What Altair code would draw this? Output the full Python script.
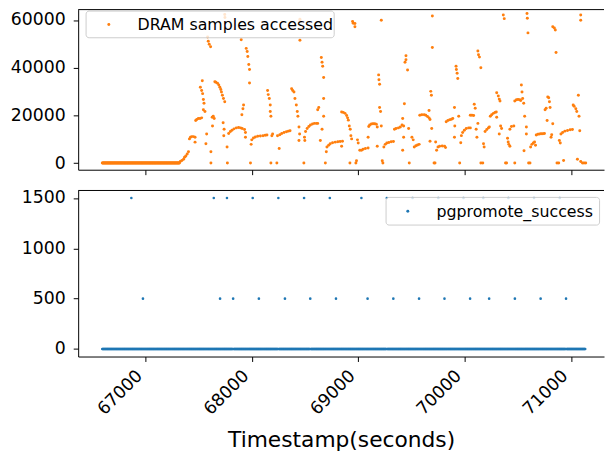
import altair as alt
import numpy as np
import pandas as pd

FONT = "DejaVu Sans"
ORANGE = "#ff7f0e"
BLUE = "#1f77b4"

# ---------------- data ----------------
x_ticks = [67000, 68000, 69000, 70000, 71000]
top_y_ticks = [0, 20000, 40000, 60000]
bot_y_ticks = [0, 500, 1000, 1500]
top_label = ["DRAM samples accessed"]
bot_label = ["pgpromote_success"]

# sampling grid of the monitor (regular sampling every 5 s)
sample_start, sample_end, sample_step = 66593, 71136, 5
# DRAM samples were 0 until this timestamp
dram_idle_end = 67320

# DRAM samples accessed (timestamp, value)
dram_seg_a = [(67326,660),(67341,1070),(67357,1620),(67366,2420),(67378,2970),(67391,3780),(67403,4730),
    (67412,10150),(67422,10830),(67434,11100),(67450,11100),(67465,10830),(67465,8790),
    (67471,17870),(67481,18280),(67496,18680),(67512,18680),(67527,18960),
    (67533,34540),(67515,31830),(67527,30470),(67536,29120),(67543,26680),(67549,25050),(67543,22340),(67558,21670),
    (67574,12180),(67567,8120),(67614,4730),(67614,0),
    (67583,52830),(67589,51070),(67598,49850),(67611,48770),
    (67626,19230),(67636,19630),(67629,15570),(67645,18680),
    (67651,34130),(67660,33860),(67676,33450),(67688,32780),(67698,31830),(67707,30880),(67713,29800),
    (67722,28440),(67732,27090),(67744,25730),
    (67729,16920),(67738,14210),(67735,11500),(67744,62300),(67746,61000),
    (67766,6760),(67769,0)]
dram_seg_b = [(67781,12450),(67797,13260),(67812,13810),(67831,14350),(67853,14760),(67874,14890),(67893,14760),
    (67908,14490),(67930,14080),(67939,12860),
    (67905,20310),(67915,22750),(67921,24380),
    (67946,48090),(67955,46740),(67961,44700),(67970,41310),(67977,39280),(67977,33590),
    (67899,51750),(67939,10830),(67986,0),(67992,7850),
    (67998,9740),(68014,10560),(68032,10960),(68054,11230),(68079,11370),(68104,11500),(68125,11640),(68141,11780)]
dram_seg_c = [(68147,30470),(68153,28710),(68163,27090),(68172,24380),(68172,21670),(68178,19630),
    (68178,0),(68194,12180),(68187,11500),(68234,0),(68256,6080),
    (68240,11500),(68262,11910),(68280,12450),(68302,12860),(68324,13130),(68342,13400),(68358,13540),
    (68373,31150),(68383,30470),(68395,29800),(68404,27090),(68417,24380),(68426,21670),(68432,19630),
    (68442,15160),(68448,12180),(68442,9470),
    (68488,0),(68494,10830),(68497,9470),
    (68504,13260),(68519,14490),(68535,15300),(68550,15980),(68569,16380),(68587,16650),(68606,16650),(68618,16650),
    (68451,60280),(68451,59340),(68451,51480),
    (68628,23290),(68618,22340),
    (68652,44300),(68659,42260),(68665,40640),(68674,35900),
    (68674,27090),(68674,19630),(68659,14210),(68643,9470),
    (68690,0),(68699,4730),(68705,6760)]
dram_seg_d = [(68721,7440),(68736,8120),(68758,8530),(68783,8790),(68807,8930),(68829,9070),(68851,9200),(68843,7030),
    (68843,21400),(68859,21260),(68875,20850),(68890,19910),(68899,18960),(68906,18010),(68915,15570),
    (68924,14220),(68930,11510),(68937,10150),
    (68921,0),(68977,0),(68983,940),
    (68946,59340),(68952,58660),(68968,57170),(68968,58520),
    (68992,9740),(68999,8390),(69014,5410),(69030,5410),(69045,5820),(69067,6090),(69092,6360),
    (69092,10830),
    (69098,15300),(69107,15980),(69123,16380),(69138,16520),(69154,16520),(69169,16250),(69178,15160),
    (69178,7030),
    (69191,36980),(69194,34950),(69200,33050),
    (69216,59880),
    (69200,23290),(69209,21670),(69216,15570),
    (69225,940),(69231,0)]
dram_seg_e = [(69240,6760),(69253,7850),(69268,8390),(69287,8660),(69309,8930),(69330,9070),
    (69340,14220),(69355,14490),(69377,14760),(69395,15160),(69411,15980),(69426,15570),
    (69417,18690),(69433,24920),(69426,10830),(69417,5410),
    (69448,44970),(69448,43350),(69439,42260),(69463,39010),
    (69473,14490),(69479,0),
    (69504,10830),(69516,9740),(69526,6760),(69541,7300),(69557,7580),(69572,7850),
    (69578,20040),(69597,20310),(69619,20310),(69634,20040),(69650,19500),(69665,18960),(69674,18280),
    (69665,22070),(69681,30070),(69687,28440),
    (69696,61640),(69696,48500),
    (69690,14490),(69674,9200),
    (69712,0),(69721,0)]
dram_seg_f = [(69727,8800),(69736,5410),(69749,6760),(69764,7030),(69789,7170),(69811,7030),(69820,6490),
    (69826,17330),(69842,17870),(69860,18140),(69876,18420),(69888,18690),
    (69904,23290),(69907,15570),(69944,19630),(69904,10830),
    (69919,40640),(69922,39280),(69929,37660),(69935,35490),
    (69953,0),(69963,8520),
    (69969,11510),(69981,12860),(69997,13810),(70015,14490),(70037,14760),(70053,14760),
    (70053,20040),(70068,20040),(70084,19910),
    (70090,24650),(70099,23020),
    (70108,14220),(70115,10830),(70124,16650),
    (70124,47010),(70130,45380),(70139,44430),(70152,39960),
    (70152,0),(70170,0),(70177,8120),(70183,6760),
    (70192,13270),(70208,14080),(70223,14760),(70232,15160)]
dram_seg_g = [(70241,19630),(70254,20310),(70270,20850),(70285,21260),(70297,21400),(70301,19230),
    (70301,29530),(70316,28170),(70325,26820),(70332,26000),
    (70338,15570),(70325,12180),
    (70363,62050),(70372,60560),
    (70347,14490),
    (70384,0),(70394,0),
    (70403,10420),(70409,8800),(70415,7850),(70425,7030),
    (70425,14220),(70440,15300),(70462,15570),
    (70471,0),
    (70471,26000),(70487,26550),(70502,26680),(70518,26550),(70527,26270),
    (70533,32780),(70539,29800),(70545,27090),(70555,25060),(70564,19630),
    (70580,15160),(70580,12180),
    (70586,62720),(70589,60690),(70595,54590),
    (70558,5140),
    (70601,0),(70614,0),
    (70620,6760),(70632,7850),(70645,8390),(70657,8800),(70666,7440),
    (70673,11780),(70688,12050),(70704,12180),(70719,12320),(70735,12320),(70750,12450)]
dram_seg_h = [(70756,22340),(70766,23020),
    (70775,17870),(70781,27760),(70790,27360),(70797,25730),(70803,23290),
    (70812,10830),(70818,11910),(70828,16520),
    (70828,57170),(70843,56630),(70852,55810),(70859,46330),
    (70868,0),(70884,0),(70890,9470),(70899,8390),
    (70905,12180),(70921,12860),(70942,13400),(70967,13670),(70992,13940),(71013,14080),
    (70930,1070),
    (71020,24380),(71029,23840),(71045,22750),(71054,21670),
    (71069,28440),(71075,19630),(71082,13540),
    (71060,1610),(71091,660),(71107,0),(71122,0),(71138,0),
    (71091,62050),(71091,59880)]

# pgpromote_success: zero everywhere except these timestamps
promote_1500_t = [66866, 67641, 67765, 68007, 68248, 68490, 68732, 69029, 69268, 69510,
                  69752, 69989, 70175, 70411, 70652, 70894]
promote_500_t = [66975, 67700, 67823, 68065, 68310, 68548, 68790, 69087, 69329, 69571,
                 69810, 70051, 70230, 70472, 70714, 70953]

# ---------------- tables ----------------
grid = np.arange(sample_start, sample_end + 1, sample_step)
idle = grid[grid <= dram_idle_end]
dram_rows = [(int(t), 0) for t in idle]
for seg in (dram_seg_a, dram_seg_b, dram_seg_c, dram_seg_d, dram_seg_e, dram_seg_f, dram_seg_g, dram_seg_h):
    dram_rows.extend(seg)
dram_df = pd.DataFrame(dram_rows, columns=["t", "v"])

spikes = set(promote_1500_t) | set(promote_500_t)
prom_rows = [(int(t), 0) for t in grid if int(t) not in spikes]
prom_rows += [(t, 1500) for t in promote_1500_t]
prom_rows += [(t, 500) for t in promote_500_t]
prom_df = pd.DataFrame(prom_rows, columns=["t", "v"])

top_leg_df = pd.DataFrame({"label": top_label})
bot_leg_df = pd.DataFrame({"label": bot_label})
dummy = pd.DataFrame({"a": [0]})

# ---------------- layout ----------------
W = 532
H_TOP = 162
H_BOT = 168
X_DOMAIN = [66366, 71310]
Y_EXTENT = 71

xscale = alt.Scale(domain=X_DOMAIN, nice=False, zero=False)


def legend_layers(df, color, x0, x1, y0, y1, sym_x, txt_x):
    ymid = (y0 + y1) / 2
    box = alt.Chart(df).mark_rect(fill="white", fillOpacity=0.8, stroke="#cccccc",
                                  strokeWidth=1, cornerRadius=3).encode(
        x=alt.value(x0), x2=alt.value(x1), y=alt.value(y0), y2=alt.value(y1))
    sym = alt.Chart(df).mark_circle(size=9, opacity=1, color=color).encode(
        x=alt.value(sym_x), y=alt.value(ymid))
    txt = alt.Chart(df).mark_text(align="left", baseline="middle", font=FONT,
                                  fontSize=16, color="black").encode(
        x=alt.value(txt_x), y=alt.value(ymid + 0.5), text="label:N")
    return [box, sym, txt]


top_pts = alt.Chart(dram_df).mark_circle(size=9, opacity=1, color=ORANGE).encode(
    x=alt.X("t:Q", scale=xscale,
            axis=alt.Axis(values=x_ticks, labels=False, title=None, grid=False,
                          tickSize=5, minExtent=5, maxExtent=5)),
    y=alt.Y("v:Q", scale=alt.Scale(domain=[-2776, 64351], nice=False, zero=False),
            axis=alt.Axis(values=top_y_ticks, format="d", title=None, grid=False,
                          tickSize=5, labelPadding=8, minExtent=Y_EXTENT, maxExtent=Y_EXTENT)),
)
top_frame = alt.Chart(dummy).mark_rule(color="black", strokeWidth=1).encode(
    x=alt.value(0), x2=alt.value(W), y=alt.value(0))
top = alt.layer(top_pts, *legend_layers(top_leg_df, ORANGE, 8, 259, 1.5, 28.5, 31, 60),
                top_frame).properties(width=W, height=H_TOP)

bot_pts = alt.Chart(prom_df).mark_circle(size=7, opacity=1, color=BLUE).encode(
    x=alt.X("t:Q", scale=xscale,
            axis=alt.Axis(values=x_ticks, format="d", title="Timestamp(seconds)", grid=False,
                          tickSize=5, labelAngle=315, labelAlign="right", labelBaseline="bottom",
                          labelPadding=18, titlePadding=12, titleFontSize=22, titleFont=FONT,
                          titleFontWeight="normal", titleColor="black")),
    y=alt.Y("v:Q", scale=alt.Scale(domain=[-75, 1575], nice=False, zero=False),
            axis=alt.Axis(values=bot_y_ticks, format="d", title=None, grid=False,
                          tickSize=5, labelPadding=8, minExtent=Y_EXTENT, maxExtent=Y_EXTENT)),
)
bot_frame = alt.Chart(dummy).mark_rule(color="black", strokeWidth=1).encode(
    x=alt.value(0), x2=alt.value(W), y=alt.value(0))
bottom = alt.layer(bot_pts, *legend_layers(bot_leg_df, BLUE, 311.5, 527.5, 7, 35, 333.5, 362.5),
                   bot_frame).properties(width=W, height=H_BOT)

chart = alt.vconcat(top, bottom, spacing=13,
                    padding={"top": -2, "left": 0, "right": 0, "bottom": 0}
).configure_view(stroke=None).configure_axis(
    domainColor="black", domainWidth=1, tickColor="black", tickWidth=1,
    labelFont=FONT, labelFontSize=17.5, labelColor="black",
)

chart.save("out.html", embed_options={"renderer": "svg", "actions": False})
